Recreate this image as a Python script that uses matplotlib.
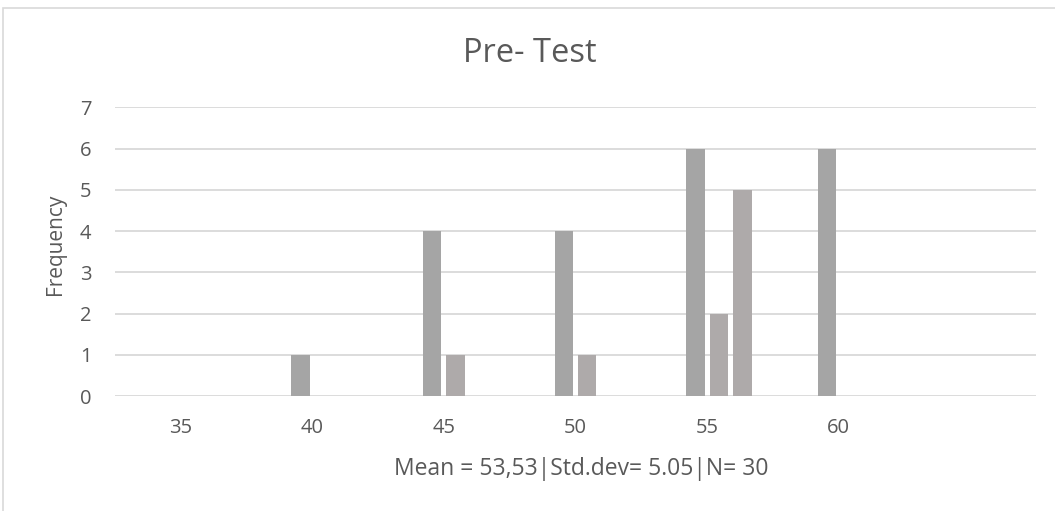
import matplotlib.pyplot as plt
import numpy as np
from matplotlib.patches import Rectangle

# score classes on the x axis (last class has no label)
categories = ["35", "40", "45", "50", "55", "60", ""]

# four clustered series, the first one is empty
series_0 = [0, 0, 0, 0, 0, 0, 0]
series_1 = [0, 1, 4, 4, 6, 6, 0]
series_2 = [0, 0, 1, 1, 2, 0, 0]
series_3 = [0, 0, 0, 0, 5, 0, 0]
series_colors = ["#A5A5A5", "#A5A5A5", "#AEAAAA", "#AEAAAA"]

title = "Pre- Test"
ylabel = "Frequency"
xlabel = "Mean = 53,53|Std.dev= 5.05|N= 30"

plt.rcParams['font.family'] = ['Open Sans', 'DejaVu Sans']
txt = "#595959"
grid = "#D9D9D9"

fig = plt.figure(figsize=(10.55, 5.11), dpi=100)
ax = fig.add_axes([115 / 1055, 1 - 396 / 511, 921 / 1055, (396 - 107.3) / 511])

# chart border (cut off at right and bottom in the original)
fig.patches.append(Rectangle((3 / 1055, -0.2), 1.5, 1.2 - 8 / 511,
                             transform=fig.transFigure, fill=False,
                             edgecolor=grid, linewidth=1.2))

x = np.arange(len(categories))
all_series = [series_0, series_1, series_2, series_3]
slot = 0.179
width = 0.14
for i, s in enumerate(all_series):
    off = (i - (len(all_series) - 1) / 2) * slot
    ax.bar(x + off, s, width=width, color=series_colors[i], zorder=3)

ax.set_xlim(-0.5, len(categories) - 0.5)
ax.set_ylim(0, 7)
ax.set_yticks(range(0, 8))
ax.set_xticks(x)
ax.set_xticklabels(categories)
ax.yaxis.grid(True, color=grid, linewidth=1.3, zorder=0)
ax.set_axisbelow(True)
for sp in ax.spines.values():
    sp.set_visible(False)
ax.tick_params(axis='both', length=0, labelsize=14.5, labelcolor=txt)
ax.tick_params(axis='y', pad=17)
ax.tick_params(axis='x', pad=15.5)

fig.text(530 / 1055, 1 - 62 / 511, title, ha='center', va='baseline',
         fontsize=23.5, color=txt)
fig.text(55 / 1055, 1 - 244 / 511, ylabel, ha='center', va='center',
         rotation=90, fontsize=15, color=txt)
fig.text(581 / 1055, 1 - 475 / 511, xlabel, ha='center', va='baseline',
         fontsize=16.5, color=txt)

fig.savefig("out.png", dpi=100, facecolor="white")
